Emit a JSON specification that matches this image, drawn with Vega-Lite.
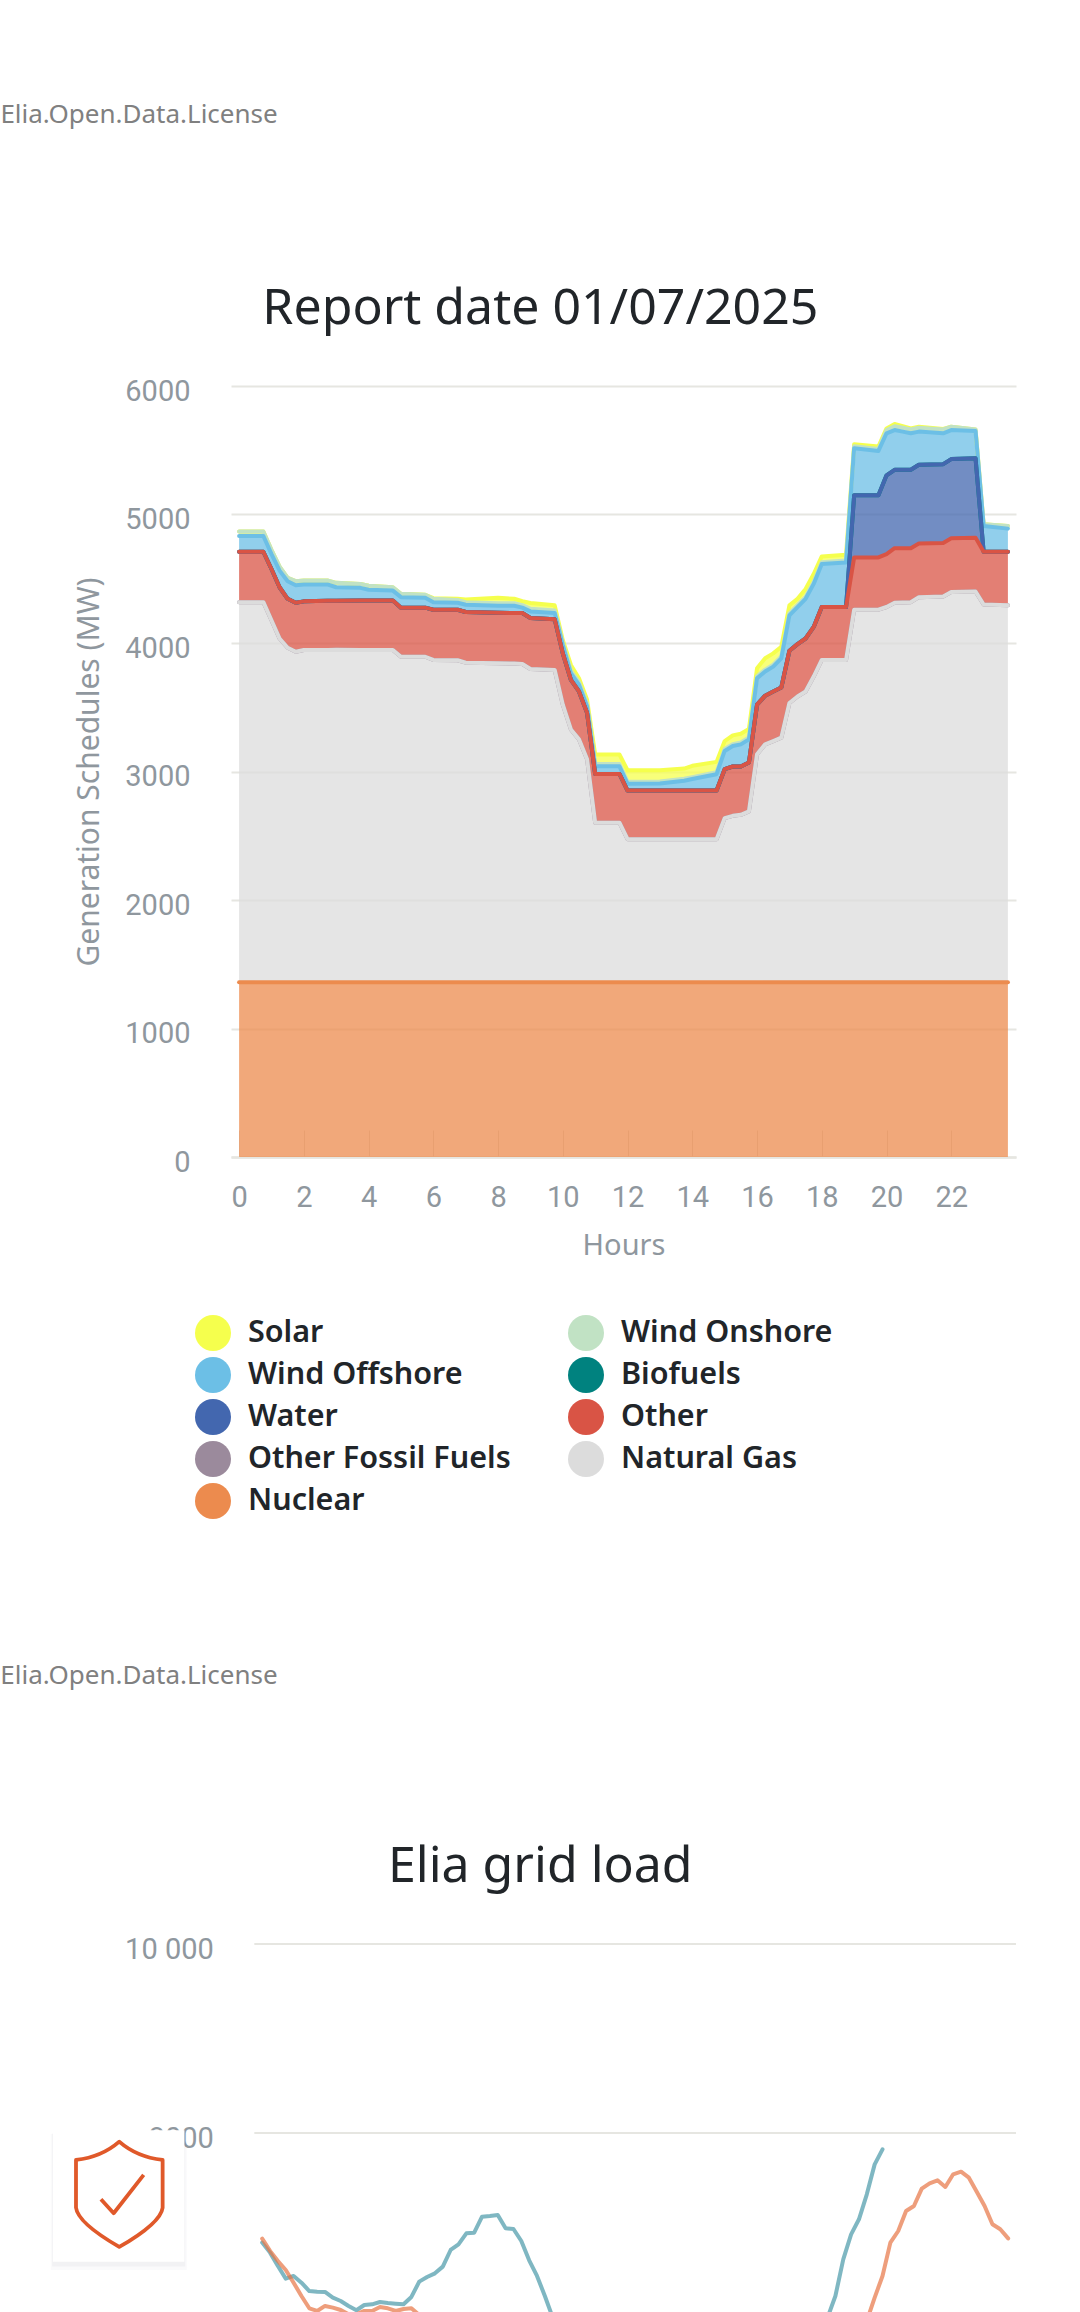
{
  "$schema": "https://vega.github.io/schema/vega-lite/v6.json",
  "padding": {"left": 0, "top": 101, "right": 0, "bottom": 0},
  "background": "white",
  "align": "none",
  "spacing": 144,
  "resolve": {"scale": {"color": "independent"}, "legend": {"color": "independent"}},
  "config": {
    "view": {"stroke": null},
    "font": "Noto Sans",
    "axis": {
      "labelFont": "Roboto",
      "labelFontSize": 29,
      "labelColor": "#8f979e",
      "titleFont": "Noto Sans",
      "titleFontSize": 29,
      "titleColor": "#8f979e",
      "titleFontWeight": "normal"
    }
  },
  "datasets": {
    "stackOrder": [
      {"s": "Solar", "rank": 8},
      {"s": "Wind Onshore", "rank": 7},
      {"s": "Wind Offshore", "rank": 6},
      {"s": "Biofuels", "rank": 5},
      {"s": "Water", "rank": 4},
      {"s": "Other", "rank": 3},
      {"s": "Other Fossil Fuels", "rank": 2},
      {"s": "Natural Gas", "rank": 1},
      {"s": "Nuclear", "rank": 0}
    ],
    "schedules": [
      {"h": 0, "Solar": 0, "Wind Onshore": 34, "Wind Offshore": 123, "Biofuels": 0, "Water": 0, "Other": 392, "Other Fossil Fuels": 0, "Natural Gas": 2958, "Nuclear": 1360},
      {"h": 0.75, "Solar": 0, "Wind Onshore": 34, "Wind Offshore": 123, "Biofuels": 0, "Water": 0, "Other": 392, "Other Fossil Fuels": 0, "Natural Gas": 2958, "Nuclear": 1360},
      {"h": 1, "Solar": 0, "Wind Onshore": 33, "Wind Offshore": 116, "Biofuels": 0, "Water": 0, "Other": 399, "Other Fossil Fuels": 0, "Natural Gas": 2817, "Nuclear": 1360},
      {"h": 1.25, "Solar": 0, "Wind Onshore": 32, "Wind Offshore": 129, "Biofuels": 0, "Water": 0, "Other": 399, "Other Fossil Fuels": 0, "Natural Gas": 2675, "Nuclear": 1360},
      {"h": 1.5, "Solar": 0, "Wind Onshore": 25, "Wind Offshore": 137, "Biofuels": 0, "Water": 0, "Other": 381, "Other Fossil Fuels": 0, "Natural Gas": 2603, "Nuclear": 1360},
      {"h": 1.75, "Solar": 0, "Wind Onshore": 31, "Wind Offshore": 137, "Biofuels": 0, "Water": 0, "Other": 381, "Other Fossil Fuels": 0, "Natural Gas": 2572, "Nuclear": 1360},
      {"h": 2, "Solar": 0, "Wind Onshore": 31, "Wind Offshore": 131, "Biofuels": 0, "Water": 0, "Other": 379, "Other Fossil Fuels": 0, "Natural Gas": 2585, "Nuclear": 1360},
      {"h": 2.75, "Solar": 0, "Wind Onshore": 31, "Wind Offshore": 127, "Biofuels": 0, "Water": 0, "Other": 382, "Other Fossil Fuels": 0, "Natural Gas": 2586, "Nuclear": 1360},
      {"h": 3, "Solar": 0, "Wind Onshore": 34, "Wind Offshore": 105, "Biofuels": 0, "Water": 0, "Other": 381, "Other Fossil Fuels": 0, "Natural Gas": 2588, "Nuclear": 1360},
      {"h": 3.75, "Solar": 0, "Wind Onshore": 31, "Wind Offshore": 99, "Biofuels": 0, "Water": 0, "Other": 385, "Other Fossil Fuels": 0, "Natural Gas": 2585, "Nuclear": 1360},
      {"h": 4, "Solar": 0, "Wind Onshore": 31, "Wind Offshore": 83, "Biofuels": 0, "Water": 0, "Other": 386, "Other Fossil Fuels": 0, "Natural Gas": 2585, "Nuclear": 1360},
      {"h": 4.75, "Solar": 0, "Wind Onshore": 26, "Wind Offshore": 77, "Biofuels": 0, "Water": 0, "Other": 386, "Other Fossil Fuels": 0, "Natural Gas": 2585, "Nuclear": 1360},
      {"h": 5, "Solar": 0, "Wind Onshore": 26, "Wind Offshore": 82, "Biofuels": 0, "Water": 0, "Other": 382, "Other Fossil Fuels": 0, "Natural Gas": 2533, "Nuclear": 1360},
      {"h": 5.75, "Solar": 0, "Wind Onshore": 23, "Wind Offshore": 77, "Biofuels": 0, "Water": 0, "Other": 382, "Other Fossil Fuels": 0, "Natural Gas": 2533, "Nuclear": 1360},
      {"h": 6, "Solar": 5, "Wind Onshore": 26, "Wind Offshore": 59, "Biofuels": 0, "Water": 0, "Other": 391, "Other Fossil Fuels": 0, "Natural Gas": 2508, "Nuclear": 1360},
      {"h": 6.75, "Solar": 9, "Wind Onshore": 22, "Wind Offshore": 54, "Biofuels": 0, "Water": 0, "Other": 393, "Other Fossil Fuels": 0, "Natural Gas": 2506, "Nuclear": 1360},
      {"h": 7, "Solar": 21, "Wind Onshore": 20, "Wind Offshore": 57, "Biofuels": 0, "Water": 0, "Other": 394, "Other Fossil Fuels": 0, "Natural Gas": 2487, "Nuclear": 1360},
      {"h": 8, "Solar": 42, "Wind Onshore": 20, "Wind Offshore": 55, "Biofuels": 0, "Water": 0, "Other": 393, "Other Fossil Fuels": 0, "Natural Gas": 2482, "Nuclear": 1360},
      {"h": 8.5, "Solar": 34, "Wind Onshore": 20, "Wind Offshore": 56, "Biofuels": 0, "Water": 0, "Other": 394, "Other Fossil Fuels": 0, "Natural Gas": 2480, "Nuclear": 1360},
      {"h": 8.75, "Solar": 31, "Wind Onshore": 20, "Wind Offshore": 42, "Biofuels": 0, "Water": 0, "Other": 396, "Other Fossil Fuels": 0, "Natural Gas": 2477, "Nuclear": 1360},
      {"h": 9, "Solar": 45, "Wind Onshore": 20, "Wind Offshore": 51, "Biofuels": 0, "Water": 0, "Other": 397, "Other Fossil Fuels": 0, "Natural Gas": 2438, "Nuclear": 1360},
      {"h": 9.75, "Solar": 40, "Wind Onshore": 20, "Wind Offshore": 49, "Biofuels": 0, "Water": 0, "Other": 394, "Other Fossil Fuels": 0, "Natural Gas": 2430, "Nuclear": 1360},
      {"h": 10, "Solar": 20, "Wind Onshore": 18, "Wind Offshore": 65, "Biofuels": 0, "Water": 0, "Other": 399, "Other Fossil Fuels": 0, "Natural Gas": 2160, "Nuclear": 1360},
      {"h": 10.25, "Solar": 46, "Wind Onshore": 18, "Wind Offshore": 52, "Biofuels": 0, "Water": 0, "Other": 386, "Other Fossil Fuels": 0, "Natural Gas": 1967, "Nuclear": 1360},
      {"h": 10.5, "Solar": 33, "Wind Onshore": 18, "Wind Offshore": 52, "Biofuels": 0, "Water": 0, "Other": 373, "Other Fossil Fuels": 0, "Natural Gas": 1890, "Nuclear": 1360},
      {"h": 10.75, "Solar": 34, "Wind Onshore": 18, "Wind Offshore": 51, "Biofuels": 0, "Water": 0, "Other": 361, "Other Fossil Fuels": 0, "Natural Gas": 1735, "Nuclear": 1360},
      {"h": 11, "Solar": 74, "Wind Onshore": 18, "Wind Offshore": 59, "Biofuels": 0, "Water": 0, "Other": 379, "Other Fossil Fuels": 0, "Natural Gas": 1242, "Nuclear": 1360},
      {"h": 11.75, "Solar": 74, "Wind Onshore": 18, "Wind Offshore": 59, "Biofuels": 0, "Water": 0, "Other": 379, "Other Fossil Fuels": 0, "Natural Gas": 1242, "Nuclear": 1360},
      {"h": 12, "Solar": 90, "Wind Onshore": 15, "Wind Offshore": 53, "Biofuels": 0, "Water": 0, "Other": 379, "Other Fossil Fuels": 0, "Natural Gas": 1113, "Nuclear": 1360},
      {"h": 13, "Solar": 88, "Wind Onshore": 15, "Wind Offshore": 55, "Biofuels": 0, "Water": 0, "Other": 379, "Other Fossil Fuels": 0, "Natural Gas": 1113, "Nuclear": 1360},
      {"h": 13.75, "Solar": 80, "Wind Onshore": 15, "Wind Offshore": 76, "Biofuels": 0, "Water": 0, "Other": 379, "Other Fossil Fuels": 0, "Natural Gas": 1113, "Nuclear": 1360},
      {"h": 14, "Solar": 88, "Wind Onshore": 15, "Wind Offshore": 89, "Biofuels": 0, "Water": 0, "Other": 379, "Other Fossil Fuels": 0, "Natural Gas": 1113, "Nuclear": 1360},
      {"h": 14.75, "Solar": 81, "Wind Onshore": 15, "Wind Offshore": 127, "Biofuels": 0, "Water": 0, "Other": 379, "Other Fossil Fuels": 0, "Natural Gas": 1113, "Nuclear": 1360},
      {"h": 15, "Solar": 62, "Wind Onshore": 15, "Wind Offshore": 142, "Biofuels": 0, "Water": 0, "Other": 381, "Other Fossil Fuels": 0, "Natural Gas": 1277, "Nuclear": 1360},
      {"h": 15.25, "Solar": 68, "Wind Onshore": 15, "Wind Offshore": 159, "Biofuels": 0, "Water": 0, "Other": 384, "Other Fossil Fuels": 0, "Natural Gas": 1295, "Nuclear": 1360},
      {"h": 15.5, "Solar": 68, "Wind Onshore": 15, "Wind Offshore": 172, "Biofuels": 0, "Water": 0, "Other": 376, "Other Fossil Fuels": 0, "Natural Gas": 1303, "Nuclear": 1360},
      {"h": 15.75, "Solar": 67, "Wind Onshore": 15, "Wind Offshore": 180, "Biofuels": 0, "Water": 0, "Other": 380, "Other Fossil Fuels": 0, "Natural Gas": 1330, "Nuclear": 1360},
      {"h": 16, "Solar": 62, "Wind Onshore": 15, "Wind Offshore": 206, "Biofuels": 0, "Water": 0, "Other": 386, "Other Fossil Fuels": 0, "Natural Gas": 1774, "Nuclear": 1360},
      {"h": 16.25, "Solar": 88, "Wind Onshore": 15, "Wind Offshore": 188, "Biofuels": 0, "Water": 0, "Other": 379, "Other Fossil Fuels": 0, "Natural Gas": 1851, "Nuclear": 1360},
      {"h": 16.5, "Solar": 88, "Wind Onshore": 15, "Wind Offshore": 193, "Biofuels": 0, "Water": 0, "Other": 386, "Other Fossil Fuels": 0, "Natural Gas": 1877, "Nuclear": 1360},
      {"h": 16.75, "Solar": 75, "Wind Onshore": 15, "Wind Offshore": 227, "Biofuels": 0, "Water": 0, "Other": 391, "Other Fossil Fuels": 0, "Natural Gas": 1903, "Nuclear": 1360},
      {"h": 17, "Solar": 63, "Wind Onshore": 15, "Wind Offshore": 275, "Biofuels": 0, "Water": 0, "Other": 407, "Other Fossil Fuels": 0, "Natural Gas": 2173, "Nuclear": 1360},
      {"h": 17.25, "Solar": 49, "Wind Onshore": 15, "Wind Offshore": 289, "Biofuels": 0, "Water": 0, "Other": 407, "Other Fossil Fuels": 0, "Natural Gas": 2224, "Nuclear": 1360},
      {"h": 17.5, "Solar": 62, "Wind Onshore": 15, "Wind Offshore": 309, "Biofuels": 0, "Water": 0, "Other": 412, "Other Fossil Fuels": 0, "Natural Gas": 2263, "Nuclear": 1360},
      {"h": 17.75, "Solar": 62, "Wind Onshore": 15, "Wind Offshore": 335, "Biofuels": 0, "Water": 0, "Other": 386, "Other Fossil Fuels": 0, "Natural Gas": 2379, "Nuclear": 1360},
      {"h": 18, "Solar": 45, "Wind Onshore": 15, "Wind Offshore": 334, "Biofuels": 0, "Water": 0, "Other": 412, "Other Fossil Fuels": 0, "Natural Gas": 2508, "Nuclear": 1360},
      {"h": 18.75, "Solar": 45, "Wind Onshore": 15, "Wind Offshore": 347, "Biofuels": 0, "Water": 0, "Other": 412, "Other Fossil Fuels": 0, "Natural Gas": 2508, "Nuclear": 1360},
      {"h": 19, "Solar": 16, "Wind Onshore": 15, "Wind Offshore": 366, "Biofuels": 0, "Water": 484, "Other": 407, "Other Fossil Fuels": 0, "Natural Gas": 2899, "Nuclear": 1360},
      {"h": 19.75, "Solar": 19, "Wind Onshore": 15, "Wind Offshore": 345, "Biofuels": 0, "Water": 484, "Other": 407, "Other Fossil Fuels": 0, "Natural Gas": 2899, "Nuclear": 1360},
      {"h": 20, "Solar": 13, "Wind Onshore": 25, "Wind Offshore": 327, "Biofuels": 0, "Water": 613, "Other": 412, "Other Fossil Fuels": 0, "Natural Gas": 2920, "Nuclear": 1360},
      {"h": 20.25, "Solar": 17, "Wind Onshore": 30, "Wind Offshore": 309, "Biofuels": 0, "Water": 610, "Other": 425, "Other Fossil Fuels": 0, "Natural Gas": 2953, "Nuclear": 1360},
      {"h": 20.5, "Solar": 13, "Wind Onshore": 30, "Wind Offshore": 297, "Biofuels": 0, "Water": 610, "Other": 423, "Other Fossil Fuels": 0, "Natural Gas": 2955, "Nuclear": 1360},
      {"h": 20.75, "Solar": 8, "Wind Onshore": 30, "Wind Offshore": 284, "Biofuels": 0, "Water": 610, "Other": 420, "Other Fossil Fuels": 0, "Natural Gas": 2958, "Nuclear": 1360},
      {"h": 21, "Solar": 8, "Wind Onshore": 30, "Wind Offshore": 258, "Biofuels": 0, "Water": 613, "Other": 417, "Other Fossil Fuels": 0, "Natural Gas": 2997, "Nuclear": 1360},
      {"h": 21.75, "Solar": 3, "Wind Onshore": 30, "Wind Offshore": 240, "Biofuels": 0, "Water": 613, "Other": 417, "Other Fossil Fuels": 0, "Natural Gas": 3002, "Nuclear": 1360},
      {"h": 22, "Solar": 0, "Wind Onshore": 26, "Wind Offshore": 226, "Biofuels": 0, "Water": 616, "Other": 419, "Other Fossil Fuels": 0, "Natural Gas": 3036, "Nuclear": 1360},
      {"h": 22.75, "Solar": 0, "Wind Onshore": 12, "Wind Offshore": 212, "Biofuels": 0, "Water": 618, "Other": 419, "Other Fossil Fuels": 0, "Natural Gas": 3041, "Nuclear": 1360},
      {"h": 23, "Solar": 0, "Wind Onshore": 13, "Wind Offshore": 201, "Biofuels": 0, "Water": 0, "Other": 410, "Other Fossil Fuels": 0, "Natural Gas": 2940, "Nuclear": 1360},
      {"h": 23.75, "Solar": 0, "Wind Onshore": 21, "Wind Offshore": 180, "Biofuels": 0, "Water": 0, "Other": 417, "Other Fossil Fuels": 0, "Natural Gas": 2933, "Nuclear": 1360}
    ],
    "gridLoad": [
      {"h": 0, "s": "Total load", "v": 6840}, {"h": 0.25, "s": "Total load", "v": 6734}, {"h": 0.5, "s": "Total load", "v": 6593}, {"h": 0.75, "s": "Total load", "v": 6459},
      {"h": 1, "s": "Total load", "v": 6487}, {"h": 1.25, "s": "Total load", "v": 6416}, {"h": 1.5, "s": "Total load", "v": 6328}, {"h": 1.75, "s": "Total load", "v": 6321},
      {"h": 2, "s": "Total load", "v": 6318}, {"h": 2.25, "s": "Total load", "v": 6258}, {"h": 2.5, "s": "Total load", "v": 6222}, {"h": 2.75, "s": "Total load", "v": 6170},
      {"h": 3, "s": "Total load", "v": 6124}, {"h": 3.25, "s": "Total load", "v": 6180}, {"h": 3.5, "s": "Total load", "v": 6187}, {"h": 3.75, "s": "Total load", "v": 6212},
      {"h": 4, "s": "Total load", "v": 6201}, {"h": 4.25, "s": "Total load", "v": 6194}, {"h": 4.5, "s": "Total load", "v": 6187}, {"h": 4.75, "s": "Total load", "v": 6265},
      {"h": 5, "s": "Total load", "v": 6427}, {"h": 5.25, "s": "Total load", "v": 6476}, {"h": 5.5, "s": "Total load", "v": 6515}, {"h": 5.75, "s": "Total load", "v": 6586},
      {"h": 6, "s": "Total load", "v": 6762}, {"h": 6.25, "s": "Total load", "v": 6822}, {"h": 6.5, "s": "Total load", "v": 6938}, {"h": 6.75, "s": "Total load", "v": 6945},
      {"h": 7, "s": "Total load", "v": 7115}, {"h": 7.25, "s": "Total load", "v": 7122}, {"h": 7.5, "s": "Total load", "v": 7132}, {"h": 7.75, "s": "Total load", "v": 6991},
      {"h": 8, "s": "Total load", "v": 6984}, {"h": 8.25, "s": "Total load", "v": 6857}, {"h": 8.5, "s": "Total load", "v": 6653}, {"h": 8.75, "s": "Total load", "v": 6487},
      {"h": 9, "s": "Total load", "v": 6275}, {"h": 9.25, "s": "Total load", "v": 6046}, {"h": 9.5, "s": "Total load", "v": 5800}, {"h": 10, "s": "Total load", "v": 5400},
      {"h": 12.5, "s": "Total load", "v": 5100}, {"h": 15, "s": "Total load", "v": 5000}, {"h": 17.5, "s": "Total load", "v": 5600}, {"h": 17.75, "s": "Total load", "v": 5800},
      {"h": 18, "s": "Total load", "v": 6046}, {"h": 18.25, "s": "Total load", "v": 6275}, {"h": 18.5, "s": "Total load", "v": 6663}, {"h": 18.75, "s": "Total load", "v": 6928},
      {"h": 19, "s": "Total load", "v": 7087}, {"h": 19.25, "s": "Total load", "v": 7351}, {"h": 19.5, "s": "Total load", "v": 7668}, {"h": 19.75, "s": "Total load", "v": 7827},
      {"h": 0, "s": "Day-ahead forecast", "v": 6882}, {"h": 0.25, "s": "Day-ahead forecast", "v": 6752}, {"h": 0.5, "s": "Day-ahead forecast", "v": 6646}, {"h": 0.75, "s": "Day-ahead forecast", "v": 6550},
      {"h": 1, "s": "Day-ahead forecast", "v": 6416}, {"h": 1.25, "s": "Day-ahead forecast", "v": 6275}, {"h": 1.5, "s": "Day-ahead forecast", "v": 6145}, {"h": 1.75, "s": "Day-ahead forecast", "v": 6117},
      {"h": 2, "s": "Day-ahead forecast", "v": 6170}, {"h": 2.25, "s": "Day-ahead forecast", "v": 6152}, {"h": 2.5, "s": "Day-ahead forecast", "v": 6127}, {"h": 2.75, "s": "Day-ahead forecast", "v": 6081},
      {"h": 3, "s": "Day-ahead forecast", "v": 6081}, {"h": 3.25, "s": "Day-ahead forecast", "v": 6117}, {"h": 3.5, "s": "Day-ahead forecast", "v": 6117}, {"h": 3.75, "s": "Day-ahead forecast", "v": 6159},
      {"h": 4, "s": "Day-ahead forecast", "v": 6145}, {"h": 4.25, "s": "Day-ahead forecast", "v": 6117}, {"h": 4.5, "s": "Day-ahead forecast", "v": 6138}, {"h": 4.75, "s": "Day-ahead forecast", "v": 6145},
      {"h": 5, "s": "Day-ahead forecast", "v": 6074}, {"h": 5.25, "s": "Day-ahead forecast", "v": 5950}, {"h": 6.25, "s": "Day-ahead forecast", "v": 5600}, {"h": 10, "s": "Day-ahead forecast", "v": 5000},
      {"h": 13.75, "s": "Day-ahead forecast", "v": 4800}, {"h": 17.5, "s": "Day-ahead forecast", "v": 5200}, {"h": 19, "s": "Day-ahead forecast", "v": 5800}, {"h": 19.25, "s": "Day-ahead forecast", "v": 6011},
      {"h": 19.5, "s": "Day-ahead forecast", "v": 6258}, {"h": 19.75, "s": "Day-ahead forecast", "v": 6487}, {"h": 20, "s": "Day-ahead forecast", "v": 6840}, {"h": 20.25, "s": "Day-ahead forecast", "v": 6963},
      {"h": 20.5, "s": "Day-ahead forecast", "v": 7175}, {"h": 20.75, "s": "Day-ahead forecast", "v": 7228}, {"h": 21, "s": "Day-ahead forecast", "v": 7411}, {"h": 21.25, "s": "Day-ahead forecast", "v": 7467},
      {"h": 21.5, "s": "Day-ahead forecast", "v": 7499}, {"h": 21.75, "s": "Day-ahead forecast", "v": 7429}, {"h": 22, "s": "Day-ahead forecast", "v": 7563}, {"h": 22.25, "s": "Day-ahead forecast", "v": 7591},
      {"h": 22.5, "s": "Day-ahead forecast", "v": 7527}, {"h": 22.75, "s": "Day-ahead forecast", "v": 7379}, {"h": 23, "s": "Day-ahead forecast", "v": 7228}, {"h": 23.25, "s": "Day-ahead forecast", "v": 7034},
      {"h": 23.5, "s": "Day-ahead forecast", "v": 6981}, {"h": 23.75, "s": "Day-ahead forecast", "v": 6885}
    ]
  },
  "vconcat": [
    {
      "width": 785,
      "height": 771,
      "layer": [
        {
          "data": {"name": "schedules"},
          "transform": [
            {"fold": ["Solar", "Wind Onshore", "Wind Offshore", "Biofuels", "Water", "Other", "Other Fossil Fuels", "Natural Gas", "Nuclear"], "as": ["s", "v"]},
            {"lookup": "s", "from": {"data": {"name": "stackOrder"}, "key": "s", "fields": ["rank"]}}
          ],
          "mark": {
            "type": "area",
            "opacity": 0.75,
            "line": {"opacity": 1, "strokeWidth": 4, "strokeCap": "round", "strokeJoin": "round"}
          },
          "encoding": {
            "x": {
              "field": "h",
              "type": "quantitative",
              "title": "Hours",
              "scale": {"domain": [-0.25, 24], "nice": false},
              "axis": {
                "values": [0, 2, 4, 6, 8, 10, 12, 14, 16, 18, 20, 22],
                "grid": false,
                "domainColor": "#e6e6e1",
                "domainWidth": 2.5,
                "tickColor": "#dcdcd6",
                "tickSize": -27,
                "labelPadding": 53,
                "titlePadding": 19
              }
            },
            "y": {
              "field": "v",
              "type": "quantitative",
              "stack": "zero",
              "title": "Generation Schedules (MW)",
              "scale": {"domain": [0, 6000], "nice": false},
              "axis": {
                "values": [0, 1000, 2000, 3000, 4000, 5000, 6000],
                "format": "d",
                "domain": false,
                "ticks": false,
                "gridColor": "#e6e6e1",
                "gridWidth": 2,
                "labelPadding": 41,
                "labelOffset": 5,
                "titleFontSize": 30,
                "titlePadding": 20
              }
            },
            "order": {"field": "rank", "type": "quantitative"},
            "color": {
              "field": "s",
              "type": "nominal",
              "sort": null,
              "scale": {
                "domain": ["Solar", "Wind Onshore", "Wind Offshore", "Biofuels", "Water", "Other", "Other Fossil Fuels", "Natural Gas", "Nuclear"],
                "range": ["#f5ff4d", "#c1e2c4", "#6cbfe6", "#00827f", "#4367af", "#d95445", "#9b8a9c", "#dcdcdc", "#ec8b4e"]
              },
              "legend": {
                "title": null,
                "orient": "none",
                "legendX": -36,
                "legendY": 929,
                "direction": "horizontal",
                "columns": 2,
                "columnPadding": 57,
                "rowPadding": 6,
                "symbolType": "circle",
                "symbolSize": 1296,
                "symbolOpacity": 1,
                "symbolStrokeWidth": 0,
                "labelFont": "Noto Sans",
                "labelFontSize": 30.5,
                "labelFontWeight": 600,
                "labelColor": "#212529",
                "labelOffset": 17,
                "labelLimit": 400
              }
            }
          }
        },
        {
          "data": {"values": [{"h": -7.374, "v": 8110, "label": "Elia.Open.Data.License"}]},
          "mark": {"type": "text", "align": "left", "baseline": "middle", "font": "Noto Sans", "fontSize": 26, "color": "#808080"},
          "encoding": {
            "x": {"field": "h", "type": "quantitative"},
            "y": {"field": "v", "type": "quantitative"},
            "text": {"field": "label"}
          }
        },
        {
          "data": {"values": [{"h": 9.308, "v": 6600, "label": "Report date 01/07/2025"}]},
          "mark": {"type": "text", "align": "center", "baseline": "middle", "font": "Noto Sans", "fontSize": 50, "color": "#212529"},
          "encoding": {
            "x": {"field": "h", "type": "quantitative"},
            "y": {"field": "v", "type": "quantitative"},
            "text": {"field": "label"}
          }
        }
      ]
    },
    {
      "width": 785,
      "height": 945,
      "layer": [
        {
          "data": {"values": [
            {"h": -0.25, "h2": 24, "v": 6000},
            {"h": -0.25, "h2": 24, "v": 8000},
            {"h": -0.25, "h2": 24, "v": 10000}
          ]},
          "mark": {"type": "rule", "color": "#e6e6e1", "strokeWidth": 2},
          "encoding": {
            "x": {"field": "h", "type": "quantitative", "scale": {"domain": [-0.993, 24], "nice": false}, "axis": null},
            "x2": {"field": "h2"},
            "y": {
              "field": "v",
              "type": "quantitative",
              "title": null,
              "scale": {"domain": [0, 10000], "nice": false},
              "axis": {
                "values": [6000, 8000, 10000],
                "labelExpr": "datum.value >= 10000 ? '10 000' : format(datum.value, 'd')",
                "domain": false,
                "ticks": false,
                "grid": false,
                "labelPadding": 17.7,
                "labelOffset": 5
              }
            }
          }
        },
        {
          "data": {"name": "gridLoad"},
          "mark": {"type": "line", "strokeWidth": 4, "opacity": 0.7, "strokeJoin": "round", "strokeCap": "round"},
          "encoding": {
            "x": {"field": "h", "type": "quantitative"},
            "y": {"field": "v", "type": "quantitative"},
            "color": {
              "field": "s",
              "type": "nominal",
              "legend": null,
              "scale": {"domain": ["Total load", "Day-ahead forecast"], "range": ["#4899a8", "#e77544"]}
            }
          }
        },
        {
          "data": {"values": [{"h": -8.338, "v": 12835, "label": "Elia.Open.Data.License"}]},
          "mark": {"type": "text", "align": "left", "baseline": "middle", "font": "Noto Sans", "fontSize": 26, "color": "#808080"},
          "encoding": {
            "x": {"field": "h", "type": "quantitative"},
            "y": {"field": "v", "type": "quantitative"},
            "text": {"field": "label"}
          }
        },
        {
          "data": {"values": [{"h": 8.854, "v": 10815, "label": "Elia grid load"}]},
          "mark": {"type": "text", "align": "center", "baseline": "middle", "font": "Noto Sans", "fontSize": 50, "color": "#212529"},
          "encoding": {
            "x": {"field": "h", "type": "quantitative"},
            "y": {"field": "v", "type": "quantitative"},
            "text": {"field": "label"}
          }
        },
        {
          "data": {"values": [{"h": -4.57, "v": 7270}]},
          "mark": {"type": "square", "size": 18500, "color": "#5a6470", "opacity": 0.03},
          "encoding": {"x": {"field": "h", "type": "quantitative"}, "y": {"field": "v", "type": "quantitative"}}
        },
        {
          "data": {"values": [{"h": -4.57, "v": 7290}]},
          "mark": {"type": "square", "size": 17700, "color": "#5a6470", "opacity": 0.05},
          "encoding": {"x": {"field": "h", "type": "quantitative"}, "y": {"field": "v", "type": "quantitative"}}
        },
        {
          "data": {"values": [{"h": -4.57, "v": 7334}]},
          "mark": {"type": "square", "size": 17300, "color": "white", "opacity": 1},
          "encoding": {"x": {"field": "h", "type": "quantitative"}, "y": {"field": "v", "type": "quantitative"}}
        },
        {
          "data": {"values": [{"h": -4.57, "v": 7334}]},
          "mark": {
            "type": "point",
            "filled": false,
            "size": 14400,
            "opacity": 1,
            "stroke": "#e0592a",
            "strokeWidth": 3.8,
            "strokeJoin": "round",
            "shape": "M0.01,-0.905 Q0.3,-0.65 0.733,-0.6 L0.733,0.195 Q0.7,0.45 0.01,0.85 Q-0.68,0.45 -0.711,0.195 L-0.711,-0.6 Q-0.28,-0.65 0.01,-0.905 Z M-0.295,0.055 L-0.083,0.288 L0.417,-0.35"
          },
          "encoding": {"x": {"field": "h", "type": "quantitative"}, "y": {"field": "v", "type": "quantitative"}}
        }
      ]
    }
  ]
}
